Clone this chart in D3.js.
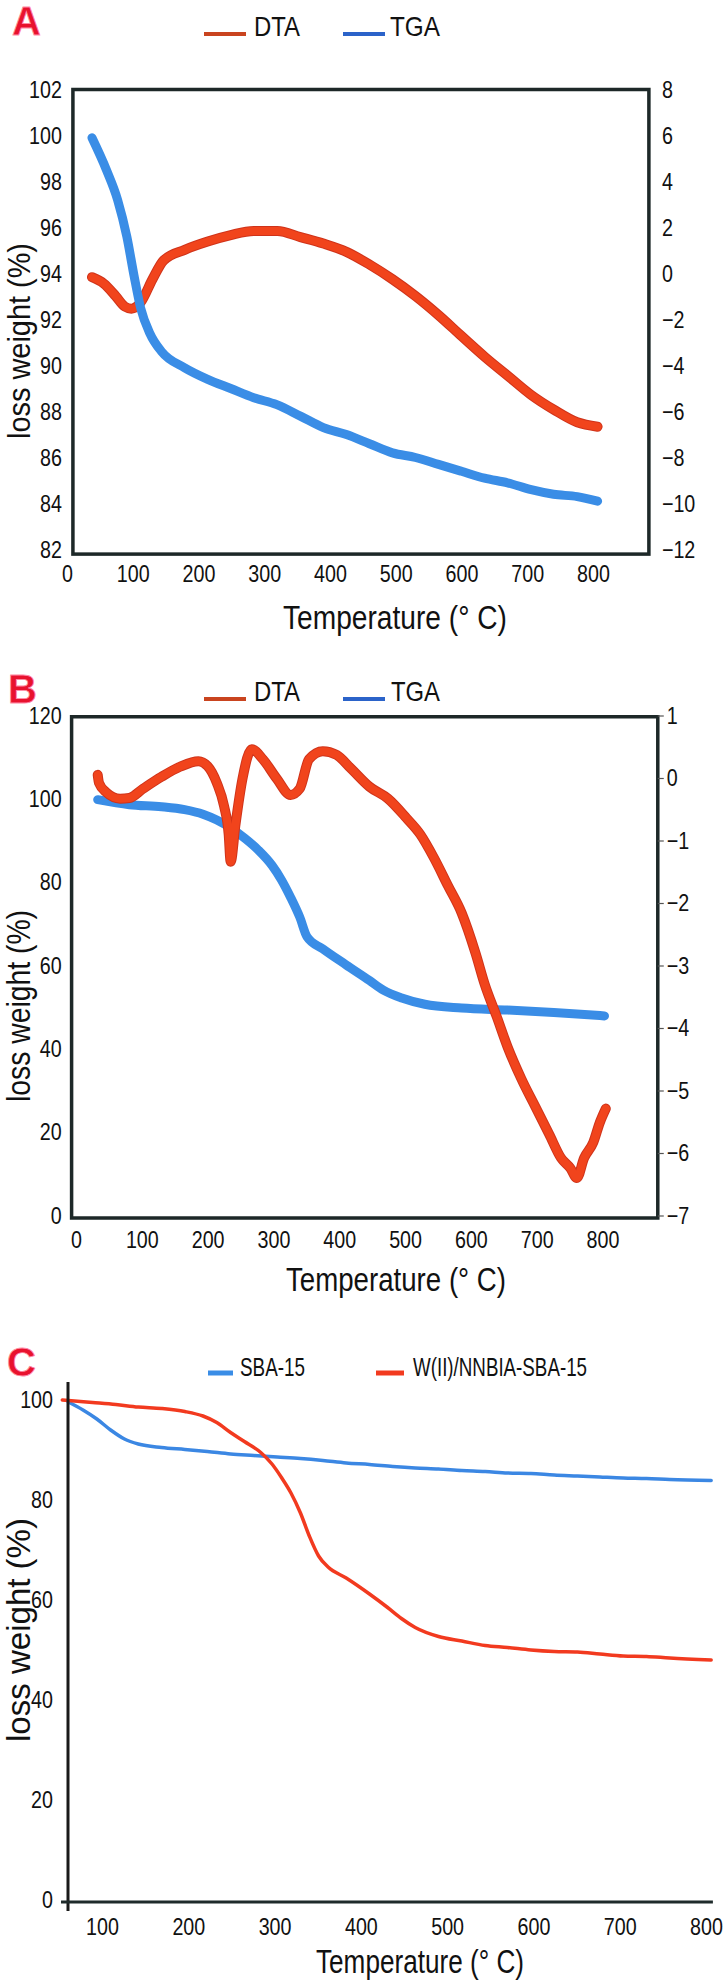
<!DOCTYPE html>
<html><head><meta charset="utf-8">
<script src="https://cdn.jsdelivr.net/npm/d3@7/dist/d3.min.js"></script>
<style>body{margin:0;background:#fff}svg{display:block}</style>
</head><body>
<svg id="c" width="724" height="1983"></svg>
<script>
// ---------- Panel A ----------
const tgaA_T = [38,60,77,91,102,112,126,144,179,214,249,284,319,355,390,425,460,495,530,565,600,635,670,706,740,776,807];
const tgaA_V = [99.9,98.5,97.2,95.6,93.9,92.5,91.4,90.6,89.9,89.4,89.0,88.6,88.3,87.8,87.3,87.0,86.6,86.2,86.0,85.7,85.4,85.1,84.9,84.6,84.4,84.3,84.1];
const dtaA_T = [38,56,74,88,98,112,130,147,179,214,249,284,320,355,390,425,460,495,530,565,600,636,671,706,741,776,807];
const dtaA_V = [-0.16,-0.44,-0.98,-1.44,-1.53,-1.26,-0.25,0.57,1.03,1.39,1.67,1.85,1.85,1.58,1.30,0.94,0.39,-0.25,-0.98,-1.81,-2.72,-3.64,-4.46,-5.28,-5.93,-6.47,-6.66];
const ticksA_left = [82,84,86,88,90,92,94,96,98,100,102];
const ticksA_right = [-12,-10,-8,-6,-4,-2,0,2,4,6,8];
const ticksX = [0,100,200,300,400,500,600,700,800];

// ---------- Panel B ----------
const tgaB_T = [33,81,130,165,193,214,235,256,277,298,312,326,340,351,375,410,446,467,495,530,586,656,726,803];
const tgaB_V = [99.8,98.6,98.1,97.4,96.3,94.9,93.0,90.6,87.7,84.0,80.6,76.4,71.6,66.9,64.0,60.2,56.4,54.1,52.2,50.7,49.8,49.3,48.7,47.9];
const dtaB_T = [33,35,46,67,81,102,130,158,186,200,214,225,232,235,242,253,267,284,305,326,340,354,375,396,418,446,474,502,523,544,565,586,607,621,639,656,677,698,719,737,751,761,772,786,796,805];
const dtaB_V = [0.05,-0.08,-0.23,-0.33,-0.32,-0.17,0.02,0.18,0.27,0.19,-0.08,-0.45,-0.90,-1.34,-0.77,-0.01,0.46,0.30,-0.01,-0.27,-0.17,0.30,0.43,0.37,0.15,-0.14,-0.33,-0.64,-0.90,-1.28,-1.72,-2.16,-2.80,-3.30,-3.81,-4.31,-4.82,-5.26,-5.70,-6.08,-6.24,-6.40,-6.08,-5.83,-5.51,-5.29];
const ticksB_left = [0,20,40,60,80,100,120];
const ticksB_right = [-7,-6,-5,-4,-3,-2,-1,0,1];

// ---------- Panel C ----------
const sba_T = [61,78,94,110,126,142,169,196,222,249,276,303,330,356,383,410,437,463,490,517,544,570,597,624,651,677,704,731,758,806];
const sba_V = [99.6,98.0,96.2,94.0,92.2,91.2,90.5,90.1,89.7,89.2,88.9,88.6,88.3,87.9,87.4,87.1,86.7,86.4,86.2,85.9,85.7,85.4,85.3,85.0,84.8,84.6,84.4,84.3,84.1,83.9];
const wnn_T = [54,89,116,142,169,196,217,233,249,265,284,297,308,319,330,340,351,362,383,410,431,447,463,490,517,544,570,597,624,651,677,704,731,758,806];
const wnn_V = [100.0,99.5,99.1,98.6,98.3,97.7,96.8,95.5,93.5,91.7,89.5,87.2,84.5,81.4,77.4,72.9,68.8,66.6,64.4,61.2,58.5,56.3,54.5,52.7,51.8,50.9,50.5,50.0,49.7,49.6,49.2,48.8,48.7,48.4,48.0];
const ticksC_y = [0,20,40,60,80,100];
const ticksC_x = [100,200,300,400,500,600,700,800];

const NARROW = "'Liberation Sans Narrow','Arial Narrow','Liberation Sans',Arial,sans-serif";
const REG = "'Liberation Sans',Arial,sans-serif";
const RED = "#f1441c", RED_EDGE = "#cf331a", BLUE = "#3a8de6";
const svg = d3.select("#c");

function zip(T, V){ return T.map((t,i)=>[t, V[i]]); }

function styleTicks(g, size){
  g.select(".domain").remove();
  g.selectAll("text").attr("font-family", REG).attr("font-size", size).attr("fill", "#111")
    .each(function(){
      const w = this.getComputedTextLength();
      d3.select(this).attr("textLength", w*0.82).attr("lengthAdjust","spacingAndGlyphs");
    });
}

function letter(txt, x, y){
  svg.append("text").attr("x", x).attr("y", y).text(txt)
    .attr("font-family", REG).attr("font-weight", "bold").attr("font-size", 40)
    .attr("fill", "#e8122e").attr("stroke", "#ff8aa5").attr("stroke-width", 0.8);
}
function legendItem(x1, x2, y, color, w, label, tx, ty, tlen, fs){
  svg.append("line").attr("x1", x1).attr("x2", x2).attr("y1", y).attr("y2", y)
    .attr("stroke", color).attr("stroke-width", w);
  svg.append("text").attr("x", tx).attr("y", ty).text(label)
    .attr("font-family", REG).attr("font-size", fs).attr("fill", "#111")
    .attr("textLength", tlen).attr("lengthAdjust", "spacingAndGlyphs");
}
function xTitle(cx, by, len, fs){
  svg.append("text").attr("x", cx).attr("y", by).attr("text-anchor", "middle")
    .text("Temperature (° C)").attr("font-family", REG).attr("font-size", fs).attr("fill", "#111")
    .attr("textLength", len).attr("lengthAdjust", "spacingAndGlyphs");
}
function yTitle(cx, cy, len, fs){
  svg.append("text").attr("transform", `translate(${cx},${cy}) rotate(-90)`)
    .attr("text-anchor", "middle").attr("dy", "0.35em")
    .text("loss weight (%)").attr("font-family", REG).attr("font-size", fs).attr("fill", "#111")
    .attr("textLength", len).attr("lengthAdjust", "spacingAndGlyphs");
}
function thickLine(data, x, y, color, edge, w){
  const ln = d3.line().x(d=>x(d[0])).y(d=>y(d[1])).curve(d3.curveMonotoneX);
  if (edge) svg.append("path").datum(data).attr("d", ln).attr("fill","none")
    .attr("stroke", edge).attr("stroke-width", w+2).attr("stroke-linecap","round").attr("stroke-linejoin","round");
  svg.append("path").datum(data).attr("d", ln).attr("fill","none")
    .attr("stroke", color).attr("stroke-width", w).attr("stroke-linecap","round").attr("stroke-linejoin","round");
}

// ================= Panel A =================
{
  const x = d3.scaleLinear().domain([0,800]).range([67,593]);
  const y = d3.scaleLinear().domain([82,102]).range([549.5,89.5]);
  const y2 = d3.scaleLinear().domain([-12,8]).range([549.5,89.5]);
  const fT = [9,885], fV = [81.8,102];
  letter("A", 12, 35);
  legendItem(204,246,34,"#c9441f",4,"DTA",254,36,46,28);
  legendItem(343,385,34,"#2b63c9",4,"TGA",390,36,50,28);
  thickLine(zip(dtaA_T,dtaA_V), x, y2, RED, RED_EDGE, 8);
  thickLine(zip(tgaA_T,tgaA_V), x, y, BLUE, null, 9);
  svg.append("rect").attr("x", x(fT[0])).attr("y", y(fV[1]))
    .attr("width", x(fT[1])-x(fT[0])).attr("height", y(fV[0])-y(fV[1]))
    .attr("fill","none").attr("stroke","#1d2828").attr("stroke-width",3.5);
  svg.append("g").attr("transform",`translate(${x(fT[0])},0)`)
    .call(d3.axisLeft(y).tickValues(ticksA_left).tickSize(0).tickPadding(11)).call(g=>styleTicks(g,24));
  svg.append("g").attr("transform",`translate(${x(fT[1])},0)`)
    .call(d3.axisRight(y2).tickValues(ticksA_right).tickSize(0).tickPadding(13)).call(g=>styleTicks(g,24));
  svg.append("g").attr("transform",`translate(0,${y(fV[0])})`)
    .call(d3.axisBottom(x).tickValues(ticksX).tickSize(0).tickPadding(11)).call(g=>styleTicks(g,24));
  xTitle(395, 629, 224, 33);
  yTitle(19, 341, 196, 32);
}

// ================= Panel B =================
{
  const x = d3.scaleLinear().domain([0,800]).range([76,602.5]);
  const y = d3.scaleLinear().domain([0,120]).range([1215.5,715.5]);
  const y2 = d3.scaleLinear().domain([-7,1]).range([1215.5,715.5]);
  const fT = [-6.7,884], fV = [-0.6,119.7];
  letter("B", 8, 703);
  legendItem(204,246,699,"#c9441f",4,"DTA",254,701,46,28);
  legendItem(343,385,699,"#2b63c9",4,"TGA",391,701,49,28);
  thickLine(zip(tgaB_T,tgaB_V), x, y, BLUE, null, 9);
  thickLine(zip(dtaB_T,dtaB_V), x, y2, RED, RED_EDGE, 8);
  svg.append("rect").attr("x", x(fT[0])).attr("y", y(fV[1]))
    .attr("width", x(fT[1])-x(fT[0])).attr("height", y(fV[0])-y(fV[1]))
    .attr("fill","none").attr("stroke","#1d2828").attr("stroke-width",3.5);
  svg.append("g").attr("transform",`translate(${x(fT[0])},0)`)
    .call(d3.axisLeft(y).tickValues(ticksB_left).tickSize(0).tickPadding(10)).call(g=>styleTicks(g,24));
  svg.append("g").attr("transform",`translate(${x(fT[1])},0)`)
    .call(d3.axisRight(y2).tickValues(ticksB_right).tickSize(6).tickPadding(3))
    .call(g=>{styleTicks(g,24); g.selectAll("line").attr("stroke","#555").attr("stroke-width",1.2);});
  svg.append("g").attr("transform",`translate(0,${y(fV[0])})`)
    .call(d3.axisBottom(x).tickValues(ticksX).tickSize(0).tickPadding(13)).call(g=>styleTicks(g,24));
  xTitle(396, 1291, 220, 33);
  yTitle(18, 1006, 192, 33);
}

// ================= Panel C =================
{
  const x = d3.scaleLinear().domain([100,800]).range([102,706]);
  const y = d3.scaleLinear().domain([0,100]).range([1900,1400]);
  letter("C", 7, 1376);
  legendItem(208,233,1373,BLUE,5,"SBA-15",240,1376,65,25);
  legendItem(376,404,1373,"#f23a1f",5,"W(II)/NNBIA-SBA-15",413,1376,174,25);
  thickLine(zip(sba_T,sba_V), x, y, "#3b87e3", null, 3.5);
  thickLine(zip(wnn_T,wnn_V), x, y, "#f23a1f", null, 3.5);
  svg.append("line").attr("x1", x(60.6)).attr("x2", x(60.6)).attr("y1", y(103.6)).attr("y2", y(-2.2))
    .attr("stroke","#1a1a1a").attr("stroke-width",3);
  svg.append("line").attr("x1", x(52.5)).attr("x2", x(808)).attr("y1", y(-0.4)).attr("y2", y(-0.4))
    .attr("stroke","#1f2b2b").attr("stroke-width",3);
  svg.append("g").attr("transform",`translate(${x(60.6)},0)`)
    .call(d3.axisLeft(y).tickValues(ticksC_y).tickSize(0).tickPadding(15)).call(g=>styleTicks(g,24));
  svg.append("g").attr("transform",`translate(0,${y(-0.4)})`)
    .call(d3.axisBottom(x).tickValues(ticksC_x).tickSize(0).tickPadding(16)).call(g=>styleTicks(g,24));
  xTitle(420, 1973, 208, 34);
  yTitle(18, 1630, 224, 34);
}
</script>
</body></html>
